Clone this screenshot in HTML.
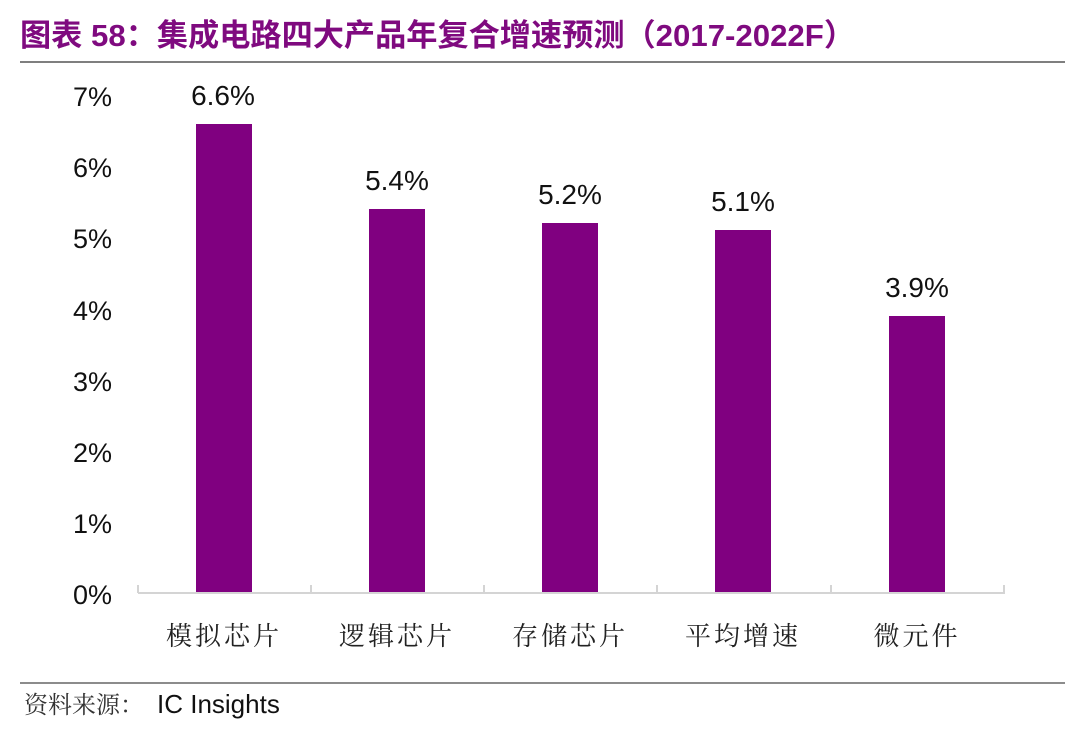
<!DOCTYPE html>
<html><head><meta charset="utf-8"><style>
body{margin:0;width:1080px;height:733px;background:#fff;overflow:hidden;font-family:"Liberation Sans","Noto Sans CJK SC",sans-serif;}
</style></head><body>
<svg width="1080" height="733" xmlns="http://www.w3.org/2000/svg">
<text x="20" y="46" font-size="31" font-weight="bold" fill="#7F0A7F" font-family="Liberation Sans,Noto Sans CJK SC,sans-serif" textLength="835" lengthAdjust="spacingAndGlyphs">图表 58：集成电路四大产品年复合增速预测（2017-2022F）</text>
<line x1="20" y1="62" x2="1065" y2="62" stroke="#555" stroke-width="1.5"/>
<g font-size="27" fill="#111" text-anchor="end">
<text x="112" y="604">0%</text><text x="112" y="533">1%</text><text x="112" y="462">2%</text><text x="112" y="391">3%</text><text x="112" y="320">4%</text><text x="112" y="248">5%</text><text x="112" y="177">6%</text><text x="112" y="106">7%</text>
</g>
<g fill="#800080">
<rect x="196" y="124" width="56" height="469"/>
<rect x="369" y="209" width="56" height="384"/>
<rect x="542" y="223" width="56" height="370"/>
<rect x="715" y="230" width="56" height="363"/>
<rect x="889" y="316" width="56" height="277"/>
</g>
<g stroke="#d4d4d4" stroke-width="2">
<line x1="138" y1="593" x2="1005" y2="593"/>
<line x1="138" y1="585" x2="138" y2="593"/><line x1="311" y1="585" x2="311" y2="593"/><line x1="484" y1="585" x2="484" y2="593"/><line x1="657" y1="585" x2="657" y2="593"/><line x1="831" y1="585" x2="831" y2="593"/><line x1="1004" y1="585" x2="1004" y2="593"/>
</g>
<g font-size="28" fill="#111" text-anchor="middle">
<text x="223" y="105">6.6%</text><text x="397" y="190">5.4%</text><text x="570" y="204">5.2%</text><text x="743" y="211">5.1%</text><text x="917" y="297">3.9%</text>
</g>
<g font-size="26" fill="#222" text-anchor="middle" font-family="Noto Serif CJK SC,serif">
<text x="224" y="645" letter-spacing="3">模拟芯片</text><text x="397" y="645" letter-spacing="3">逻辑芯片</text><text x="570" y="645" letter-spacing="3">存储芯片</text><text x="743" y="645" letter-spacing="3">平均增速</text><text x="917" y="645" letter-spacing="3">微元件</text>
</g>
<line x1="20" y1="683" x2="1065" y2="683" stroke="#666" stroke-width="1.5"/>
<text x="24" y="713" font-size="24" fill="#333" font-family="Noto Serif CJK SC,serif">资料来源：</text>
<text x="157" y="713" font-size="26" fill="#111">IC Insights</text>
</svg>
</body></html>
